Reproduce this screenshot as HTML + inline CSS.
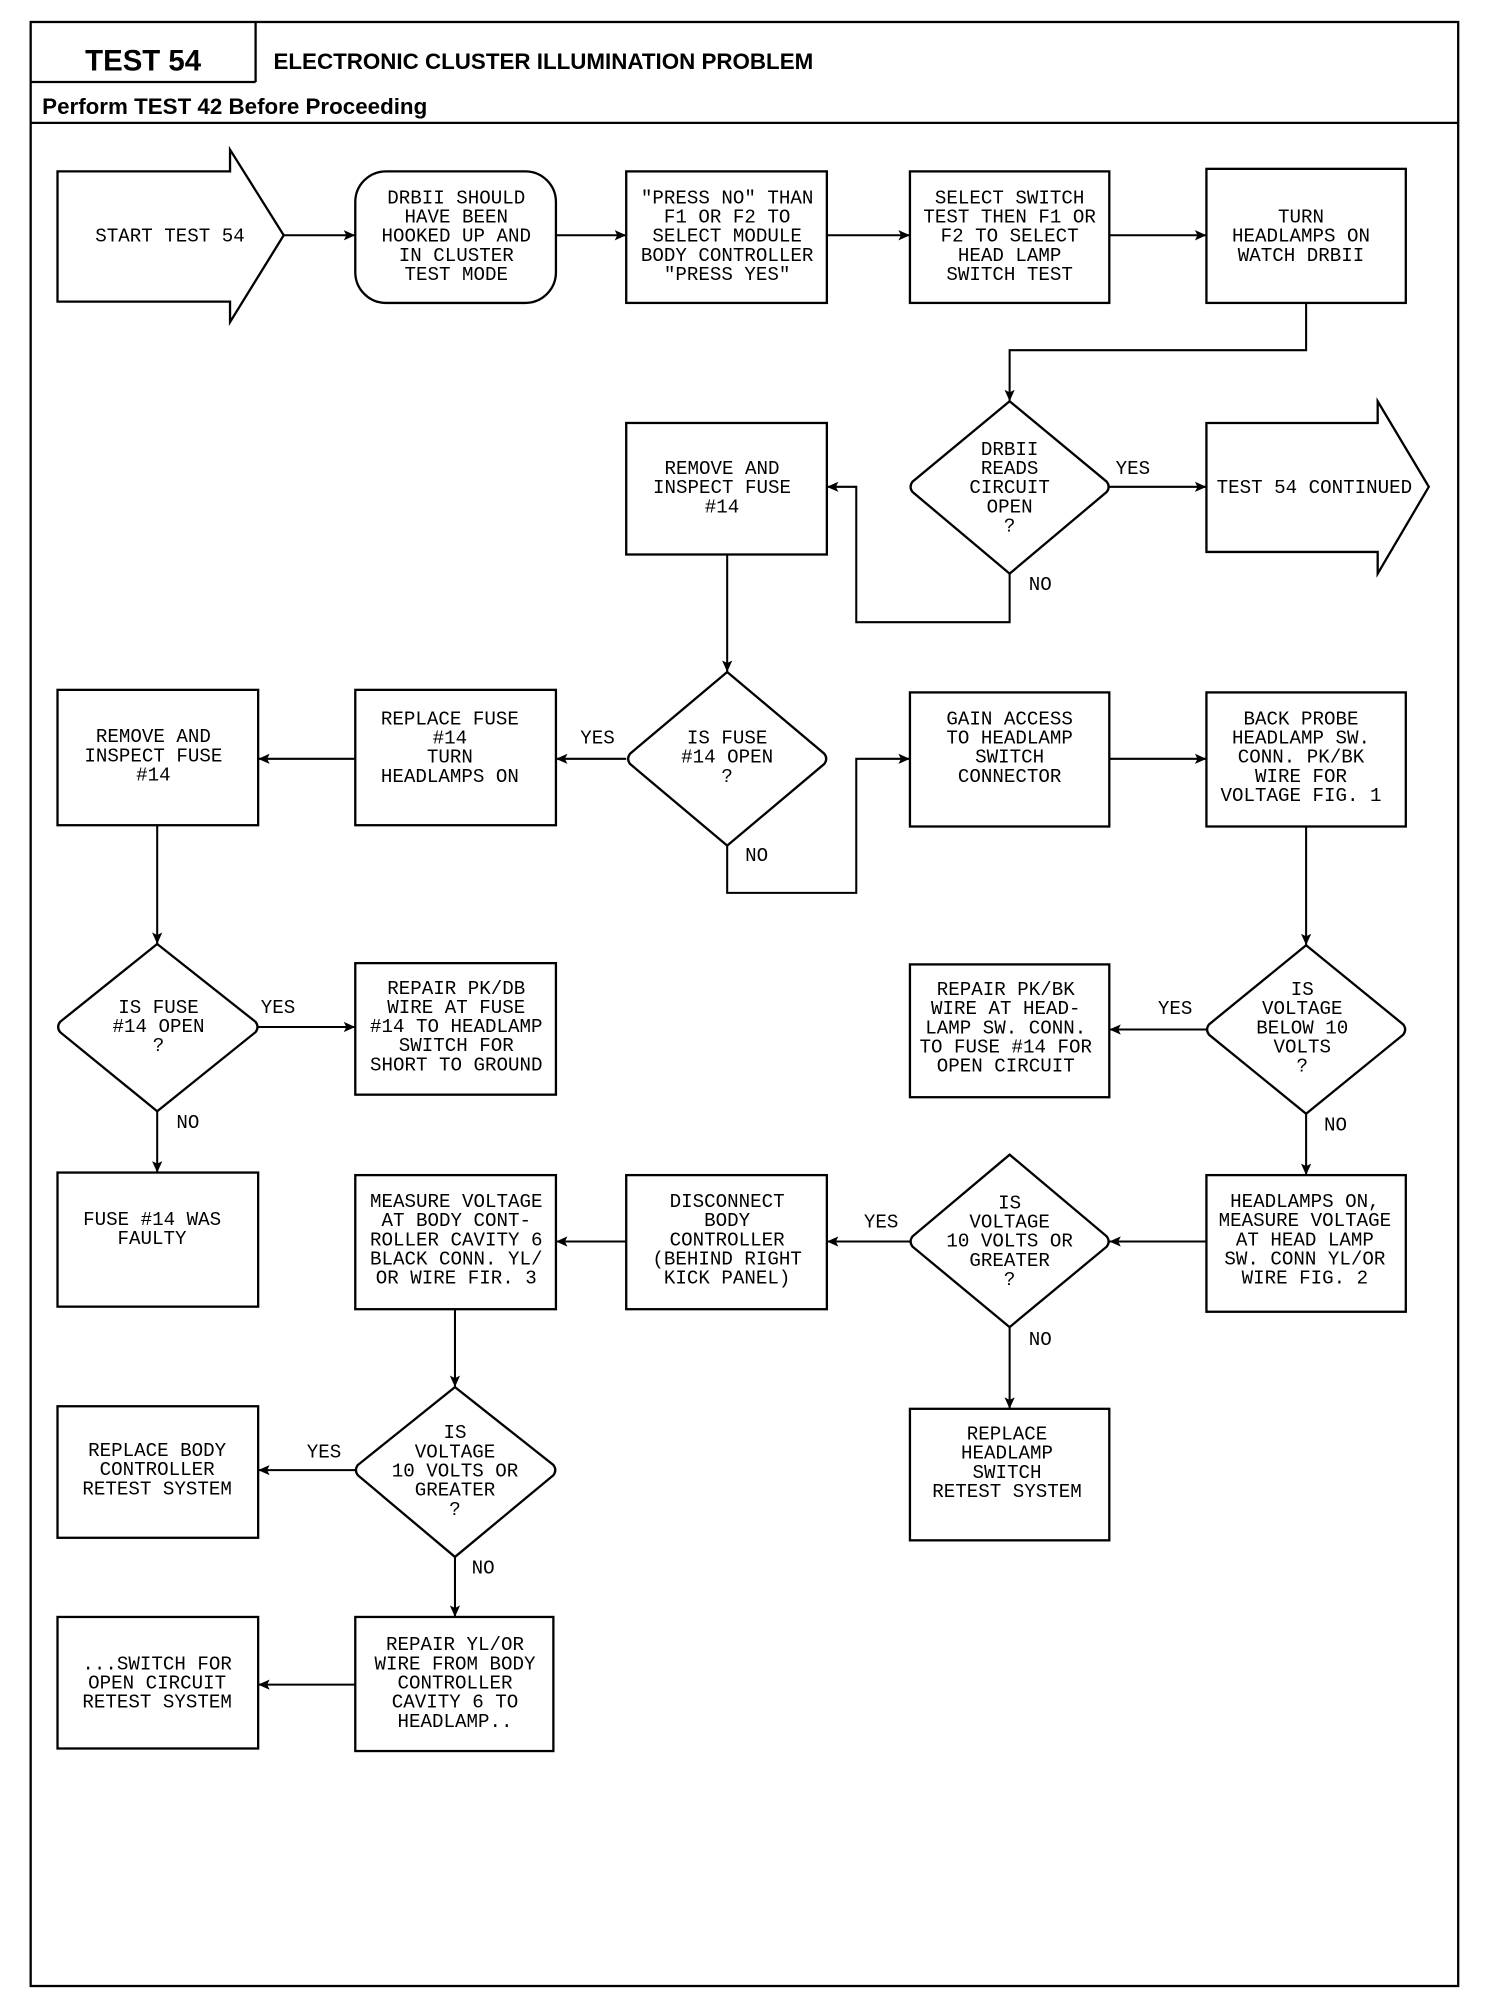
<!DOCTYPE html>
<html><head><meta charset="utf-8"><style>
html,body{margin:0;padding:0;background:#fff;}
svg{display:block;}
.t{font-family:"Liberation Mono",monospace;font-size:15px;text-anchor:middle;fill:#000;}
.l{font-family:"Liberation Mono",monospace;font-size:15px;fill:#000;}
.s{fill:none;stroke:#000;stroke-width:1.8;}
.c{fill:none;stroke:#000;stroke-width:1.6;}
</style></head><body>
<svg width="1504" height="2004" viewBox="0 0 1504 2004" xmlns="http://www.w3.org/2000/svg">
<defs><marker id="a" markerWidth="10" markerHeight="8" refX="9" refY="4" orient="auto" markerUnits="userSpaceOnUse"><path d="M0,0 L9,4 L0,8 L2,4 Z" fill="#000"/></marker></defs>
<g transform="matrix(1.278 0 0 1.277 0 -1)">
<rect x="24" y="18" width="1117" height="1538" class="s" stroke-width="2.2"/>
<line x1="200" y1="18" x2="200" y2="65" class="s"/>
<line x1="24" y1="65" x2="200" y2="65" class="s"/>
<line x1="24" y1="97" x2="1141" y2="97" class="s"/>
<text x="112" y="56" style="font-family:'Liberation Sans',sans-serif;font-weight:bold;font-size:23px;text-anchor:middle">TEST 54</text>
<text x="214" y="55" style="font-family:'Liberation Sans',sans-serif;font-weight:bold;font-size:17.5px">ELECTRONIC CLUSTER ILLUMINATION PROBLEM</text>
<text x="33" y="90" style="font-family:'Liberation Sans',sans-serif;font-weight:bold;font-size:17.5px">Perform TEST 42 Before Proceeding</text>

<path d="M45,135 H180 V118 L222,185 L180,253 V237 H45 Z" class="s"/>
<rect x="278" y="135" width="157" height="103" rx="24" class="s"/>
<rect x="490" y="135" width="157" height="103" class="s"/>
<rect x="712" y="135" width="156" height="103" class="s"/>
<rect x="944" y="133" width="156" height="105" class="s"/>
<path d="M790,315 L866,378 Q869,382 866,386 L790,450 L714,386 Q711,382 714,378 Z" class="s"/>
<path d="M944,332 H1078 V315 L1118,382 L1078,450 V433 H944 Z" class="s"/>
<rect x="490" y="332" width="157" height="103" class="s"/>
<path d="M569,527 L645,591 Q648,595 645,599 L569,663 L493,599 Q490,595 493,591 Z" class="s"/>
<rect x="712" y="543" width="156" height="105" class="s"/>
<rect x="944" y="543" width="156" height="105" class="s"/>
<rect x="278" y="541" width="157" height="106" class="s"/>
<rect x="45" y="541" width="157" height="106" class="s"/>
<path d="M123,740 L200,801 Q203,805 200,809 L123,871 L47,809 Q44,805 47,801 Z" class="s"/>
<rect x="278" y="755" width="157" height="103" class="s"/>
<rect x="712" y="756" width="156" height="104" class="s"/>
<path d="M1022,741 L1098,803 Q1101,807 1098,811 L1022,873 L946,811 Q943,807 946,803 Z" class="s"/>
<rect x="45" y="919" width="157" height="105" class="s"/>
<rect x="278" y="921" width="157" height="105" class="s"/>
<rect x="490" y="921" width="157" height="105" class="s"/>
<path d="M790,905 L866,969 Q869,973 866,977 L790,1040 L714,977 Q711,973 714,969 Z" class="s"/>
<rect x="944" y="921" width="156" height="107" class="s"/>
<rect x="712" y="1104" width="156" height="103" class="s"/>
<path d="M356,1087 L433,1148 Q436,1152 433,1156 L356,1220 L280,1156 Q277,1152 280,1148 Z" class="s"/>
<rect x="45" y="1102" width="157" height="103" class="s"/>
<rect x="278" y="1267" width="155" height="105" class="s"/>
<rect x="45" y="1267" width="157" height="103" class="s"/>

<line x1="222" y1="185" x2="278" y2="185" class="c" marker-end="url(#a)"/>
<line x1="435" y1="185" x2="490" y2="185" class="c" marker-end="url(#a)"/>
<line x1="647" y1="185" x2="712" y2="185" class="c" marker-end="url(#a)"/>
<line x1="868" y1="185" x2="944" y2="185" class="c" marker-end="url(#a)"/>
<polyline points="1022,238 1022,275 790,275 790,315" class="c" marker-end="url(#a)"/>
<line x1="868" y1="382" x2="944" y2="382" class="c" marker-end="url(#a)"/>
<polyline points="790,450 790,488 670,488 670,382 647,382" class="c" marker-end="url(#a)"/>
<line x1="569" y1="435" x2="569" y2="527" class="c" marker-end="url(#a)"/>
<polyline points="569,663 569,700 670,700 670,595 712,595" class="c" marker-end="url(#a)"/>
<line x1="490" y1="595" x2="435" y2="595" class="c" marker-end="url(#a)"/>
<line x1="278" y1="595" x2="202" y2="595" class="c" marker-end="url(#a)"/>
<line x1="868" y1="595" x2="944" y2="595" class="c" marker-end="url(#a)"/>
<line x1="123" y1="647" x2="123" y2="740" class="c" marker-end="url(#a)"/>
<line x1="202" y1="805" x2="278" y2="805" class="c" marker-end="url(#a)"/>
<line x1="123" y1="871" x2="123" y2="919" class="c" marker-end="url(#a)"/>
<line x1="1022" y1="648" x2="1022" y2="741" class="c" marker-end="url(#a)"/>
<line x1="944" y1="807" x2="868" y2="807" class="c" marker-end="url(#a)"/>
<line x1="1022" y1="873" x2="1022" y2="921" class="c" marker-end="url(#a)"/>
<line x1="944" y1="973" x2="868" y2="973" class="c" marker-end="url(#a)"/>
<line x1="712" y1="973" x2="647" y2="973" class="c" marker-end="url(#a)"/>
<line x1="490" y1="973" x2="435" y2="973" class="c" marker-end="url(#a)"/>
<line x1="790" y1="1040" x2="790" y2="1104" class="c" marker-end="url(#a)"/>
<line x1="356" y1="1026" x2="356" y2="1087" class="c" marker-end="url(#a)"/>
<line x1="278" y1="1152" x2="202" y2="1152" class="c" marker-end="url(#a)"/>
<line x1="356" y1="1220" x2="356" y2="1267" class="c" marker-end="url(#a)"/>
<line x1="278" y1="1320" x2="202" y2="1320" class="c" marker-end="url(#a)"/>

<text class="l" x="873" y="372">YES</text>
<text class="l" x="805" y="463">NO</text>
<text class="l" x="454" y="583">YES</text>
<text class="l" x="583" y="675">NO</text>
<text class="l" x="204" y="794">YES</text>
<text class="l" x="138" y="884">NO</text>
<text class="l" x="906" y="795">YES</text>
<text class="l" x="1036" y="886">NO</text>
<text class="l" x="676" y="962">YES</text>
<text class="l" x="805" y="1054">NO</text>
<text class="l" x="240" y="1142">YES</text>
<text class="l" x="369" y="1233">NO</text>

<text class="t" x="133" y="190">START TEST 54</text>
<text class="t"><tspan x="357" y="160">DRBII SHOULD</tspan><tspan x="357" y="175">HAVE BEEN</tspan><tspan x="357" y="190">HOOKED UP AND</tspan><tspan x="357" y="205">IN CLUSTER</tspan><tspan x="357" y="220">TEST MODE</tspan></text>
<text class="t"><tspan x="569" y="160">"PRESS NO" THAN</tspan><tspan x="569" y="175">F1 OR F2 TO</tspan><tspan x="569" y="190">SELECT MODULE</tspan><tspan x="569" y="205">BODY CONTROLLER</tspan><tspan x="569" y="220">"PRESS YES"</tspan></text>
<text class="t"><tspan x="790" y="160">SELECT SWITCH</tspan><tspan x="790" y="175">TEST THEN F1 OR</tspan><tspan x="790" y="190">F2 TO SELECT</tspan><tspan x="790" y="205">HEAD LAMP</tspan><tspan x="790" y="220">SWITCH TEST</tspan></text>
<text class="t"><tspan x="1018" y="175">TURN</tspan><tspan x="1018" y="190">HEADLAMPS ON</tspan><tspan x="1018" y="205">WATCH DRBII</tspan></text>
<text class="t"><tspan x="790" y="357">DRBII</tspan><tspan x="790" y="372">READS</tspan><tspan x="790" y="387">CIRCUIT</tspan><tspan x="790" y="402">OPEN</tspan><tspan x="790" y="417">?</tspan></text>
<text class="l" x="952" y="387">TEST 54 CONTINUED</text>
<text class="t"><tspan x="565" y="372">REMOVE AND</tspan><tspan x="565" y="387">INSPECT FUSE</tspan><tspan x="565" y="402">#14</tspan></text>
<text class="t"><tspan x="569" y="583">IS FUSE</tspan><tspan x="569" y="598">#14 OPEN</tspan><tspan x="569" y="613">?</tspan></text>
<text class="t"><tspan x="790" y="568">GAIN ACCESS</tspan><tspan x="790" y="583">TO HEADLAMP</tspan><tspan x="790" y="598">SWITCH</tspan><tspan x="790" y="613">CONNECTOR</tspan></text>
<text class="t"><tspan x="1018" y="568">BACK PROBE</tspan><tspan x="1018" y="583">HEADLAMP SW.</tspan><tspan x="1018" y="598">CONN. PK/BK</tspan><tspan x="1018" y="613">WIRE FOR</tspan><tspan x="1018" y="628">VOLTAGE FIG. 1</tspan></text>
<text class="t"><tspan x="352" y="568">REPLACE FUSE</tspan><tspan x="352" y="583">#14</tspan><tspan x="352" y="598">TURN</tspan><tspan x="352" y="613">HEADLAMPS ON</tspan></text>
<text class="t"><tspan x="120" y="582">REMOVE AND</tspan><tspan x="120" y="597">INSPECT FUSE</tspan><tspan x="120" y="612">#14</tspan></text>
<text class="t"><tspan x="124" y="794">IS FUSE</tspan><tspan x="124" y="809">#14 OPEN</tspan><tspan x="124" y="824">?</tspan></text>
<text class="t"><tspan x="357" y="779">REPAIR PK/DB</tspan><tspan x="357" y="794">WIRE AT FUSE</tspan><tspan x="357" y="809">#14 TO HEADLAMP</tspan><tspan x="357" y="824">SWITCH FOR</tspan><tspan x="357" y="839">SHORT TO GROUND</tspan></text>
<text class="t"><tspan x="787" y="780">REPAIR PK/BK</tspan><tspan x="787" y="795">WIRE AT HEAD-</tspan><tspan x="787" y="810">LAMP SW. CONN.</tspan><tspan x="787" y="825">TO FUSE #14 FOR</tspan><tspan x="787" y="840">OPEN CIRCUIT</tspan></text>
<text class="t"><tspan x="1019" y="780">IS</tspan><tspan x="1019" y="795">VOLTAGE</tspan><tspan x="1019" y="810">BELOW 10</tspan><tspan x="1019" y="825">VOLTS</tspan><tspan x="1019" y="840">?</tspan></text>
<text class="t"><tspan x="119" y="960">FUSE #14 WAS</tspan><tspan x="119" y="975">FAULTY</tspan></text>
<text class="t"><tspan x="357" y="946">MEASURE VOLTAGE</tspan><tspan x="357" y="961">AT BODY CONT-</tspan><tspan x="357" y="976">ROLLER CAVITY 6</tspan><tspan x="357" y="991">BLACK CONN. YL/</tspan><tspan x="357" y="1006">OR WIRE FIR. 3</tspan></text>
<text class="t"><tspan x="569" y="946">DISCONNECT</tspan><tspan x="569" y="961">BODY</tspan><tspan x="569" y="976">CONTROLLER</tspan><tspan x="569" y="991">(BEHIND RIGHT</tspan><tspan x="569" y="1006">KICK PANEL)</tspan></text>
<text class="t"><tspan x="790" y="947">IS</tspan><tspan x="790" y="962">VOLTAGE</tspan><tspan x="790" y="977">10 VOLTS OR</tspan><tspan x="790" y="992">GREATER</tspan><tspan x="790" y="1007">?</tspan></text>
<text class="t"><tspan x="1021" y="946">HEADLAMPS ON,</tspan><tspan x="1021" y="961">MEASURE VOLTAGE</tspan><tspan x="1021" y="976">AT HEAD LAMP</tspan><tspan x="1021" y="991">SW. CONN YL/OR</tspan><tspan x="1021" y="1006">WIRE FIG. 2</tspan></text>
<text class="t"><tspan x="788" y="1128">REPLACE</tspan><tspan x="788" y="1143">HEADLAMP</tspan><tspan x="788" y="1158">SWITCH</tspan><tspan x="788" y="1173">RETEST SYSTEM</tspan></text>
<text class="t"><tspan x="356" y="1127">IS</tspan><tspan x="356" y="1142">VOLTAGE</tspan><tspan x="356" y="1157">10 VOLTS OR</tspan><tspan x="356" y="1172">GREATER</tspan><tspan x="356" y="1187">?</tspan></text>
<text class="t"><tspan x="123" y="1141">REPLACE BODY</tspan><tspan x="123" y="1156">CONTROLLER</tspan><tspan x="123" y="1171">RETEST SYSTEM</tspan></text>
<text class="t"><tspan x="123" y="1308">...SWITCH FOR</tspan><tspan x="123" y="1323">OPEN CIRCUIT</tspan><tspan x="123" y="1338">RETEST SYSTEM</tspan></text>
<text class="t"><tspan x="356" y="1293">REPAIR YL/OR</tspan><tspan x="356" y="1308">WIRE FROM BODY</tspan><tspan x="356" y="1323">CONTROLLER</tspan><tspan x="356" y="1338">CAVITY 6 TO</tspan><tspan x="356" y="1353">HEADLAMP..</tspan></text>
</g>
</svg>
</body></html>
